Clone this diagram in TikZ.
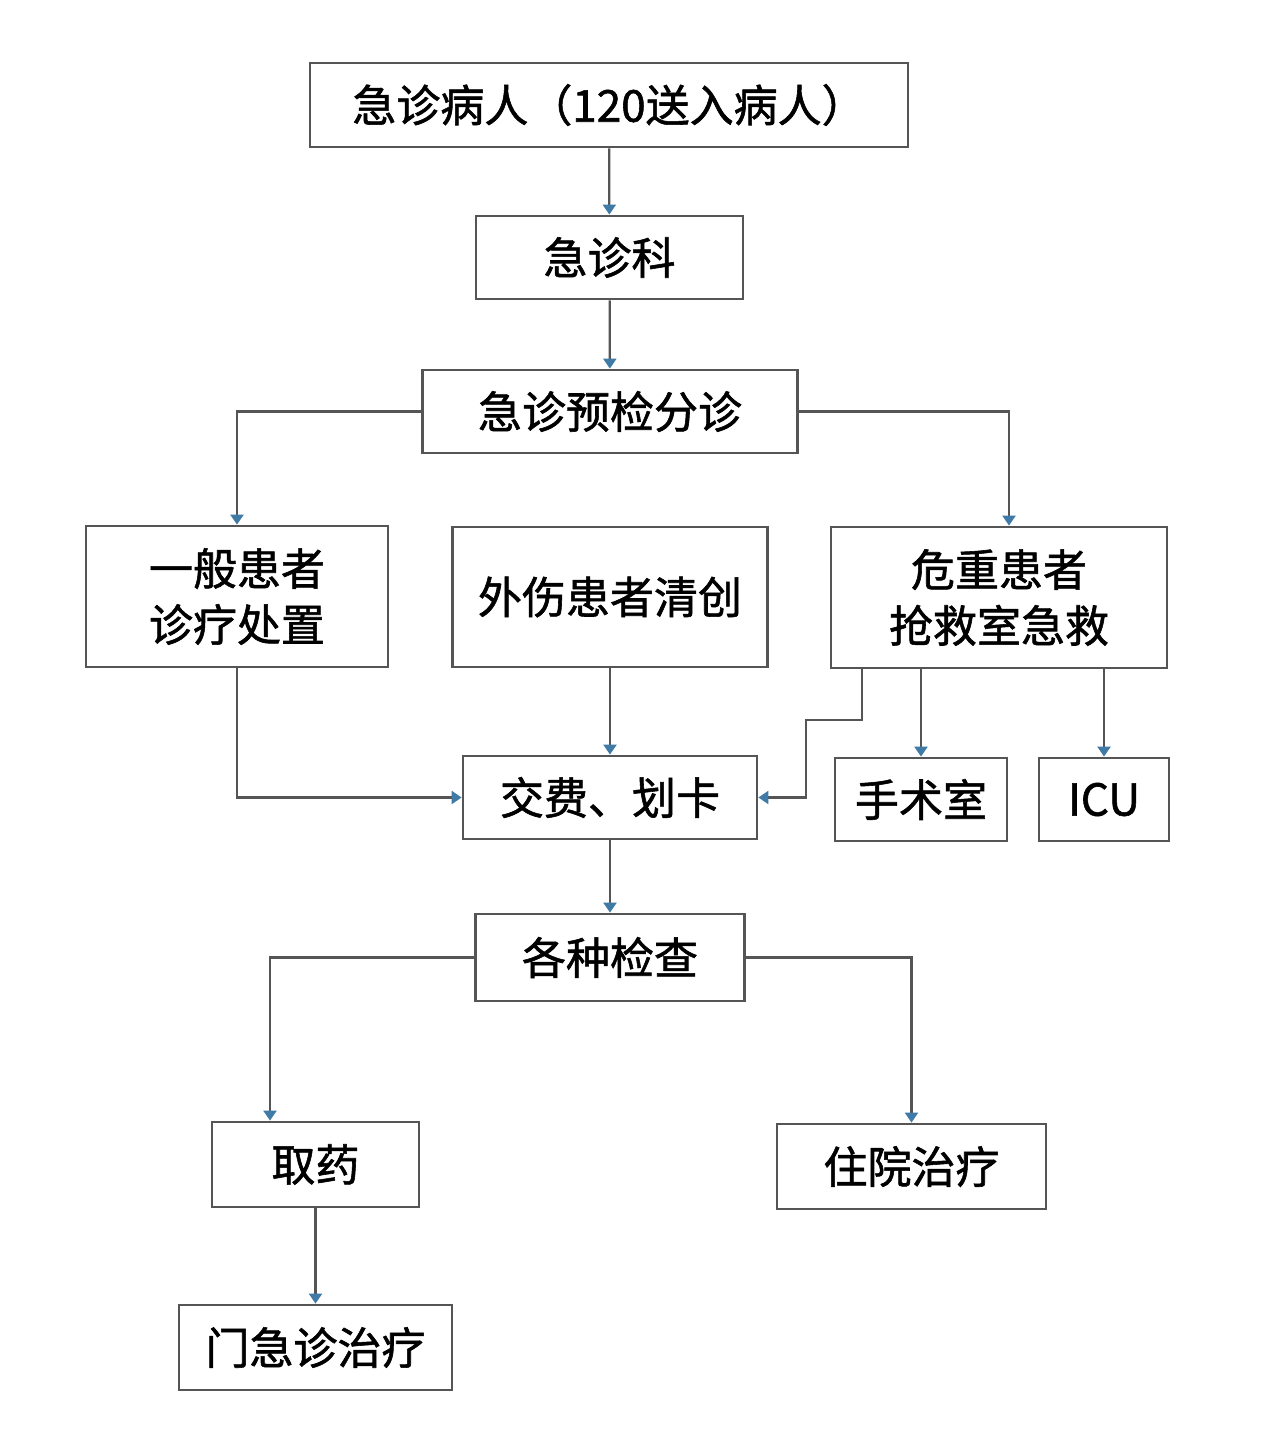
\documentclass[tikz,border=0pt]{standalone}
\usepackage{fontspec}
\setmainfont{Noto Sans CJK SC}[AutoFakeBold=1.3]
\usepackage{tikz}
\usetikzlibrary{arrows.meta,positioning}

\definecolor{edgegray}{HTML}{555555}
\definecolor{tipblue}{HTML}{3F7BA6}

\begin{document}
\begin{tikzpicture}[x=0.5pt, y=-0.5pt,
  box/.style={draw=edgegray, line width=1.4pt, align=center, inner sep=0pt,
    font=\fontsize{22}{28}\selectfont\bfseries},
  arr/.style={draw=edgegray, line width=1.1pt,
    -{Triangle[width=6.5pt,length=5pt,color=tipblue]}}]
  \useasboundingbox[fill=white] (0,0) rectangle (1280,1439);
  % upper chain
  \node[box, minimum width=299pt, minimum height=42pt] (in) at (609,105) {急诊病人（120送入病人）};
  \node[box, minimum width=133.5pt, minimum height=41.5pt] (ed) at (609.5,257.5) {急诊科};
  \node[box, minimum width=187.5pt, minimum height=41.5pt] (tri) at (610,411.5) {急诊预检分诊};
  % three branches
  \node[box, minimum width=151pt, minimum height=70.5pt] (gen) at (237,596.5) {一般患者\\诊疗处置};
  \node[box, minimum width=157.5pt, minimum height=70pt] (trauma) at (610,597) {外伤患者清创};
  \node[box, minimum width=168pt, minimum height=70.5pt] (crit) at (999,597.5) {危重患者\\抢救室急救};
  \node[box, minimum width=147pt, minimum height=41.5pt] (pay) at (610,797.5) {交费、划卡};
  \node[box, minimum width=86pt, minimum height=41.5pt] (op) at (921,799.5) {手术室};
  \node[box, minimum width=65pt, minimum height=41.5pt] (icu) at (1104,799.5) {ICU};
  % lower part
  \node[box, minimum width=134.5pt, minimum height=43.5pt] (exam) at (610,957.5) {各种检查};
  \node[box, minimum width=103.5pt, minimum height=42.5pt] (drug) at (315.5,1164.5) {取药};
  \node[box, minimum width=134.5pt, minimum height=42.5pt] (ward) at (911.5,1166.5) {住院治疗};
  \node[box, minimum width=136.5pt, minimum height=42.5pt] (clinic) at (315.5,1347.5) {门急诊治疗};

  \coordinate (k1) at (862,720);
  \coordinate (k2) at (806,720);

  \draw[arr] (in) -- (ed);
  \draw[arr] (ed) -- (tri);
  \draw[arr] (tri.west) -| (gen.north);
  \draw[arr] (tri.east) -| ([xshift=5pt]crit.north);
  \draw[arr] (gen.south) |- (pay.west);
  \draw[arr] (trauma) -- (pay);
  \draw[arr] (crit.south -| k1) -- (k1) -- (k2) |- (pay.east);
  \draw[arr] (crit.south -| op.north) -- (op.north);
  \draw[arr] (crit.south -| icu.north) -- (icu.north);
  \draw[arr] (pay) -- (exam);
  \draw[arr] (exam.west) -| ([xshift=-22.75pt]drug.north);
  \draw[arr] (exam.east) -| (ward.north);
  \draw[arr] (drug) -- (clinic);
\end{tikzpicture}
\end{document}
